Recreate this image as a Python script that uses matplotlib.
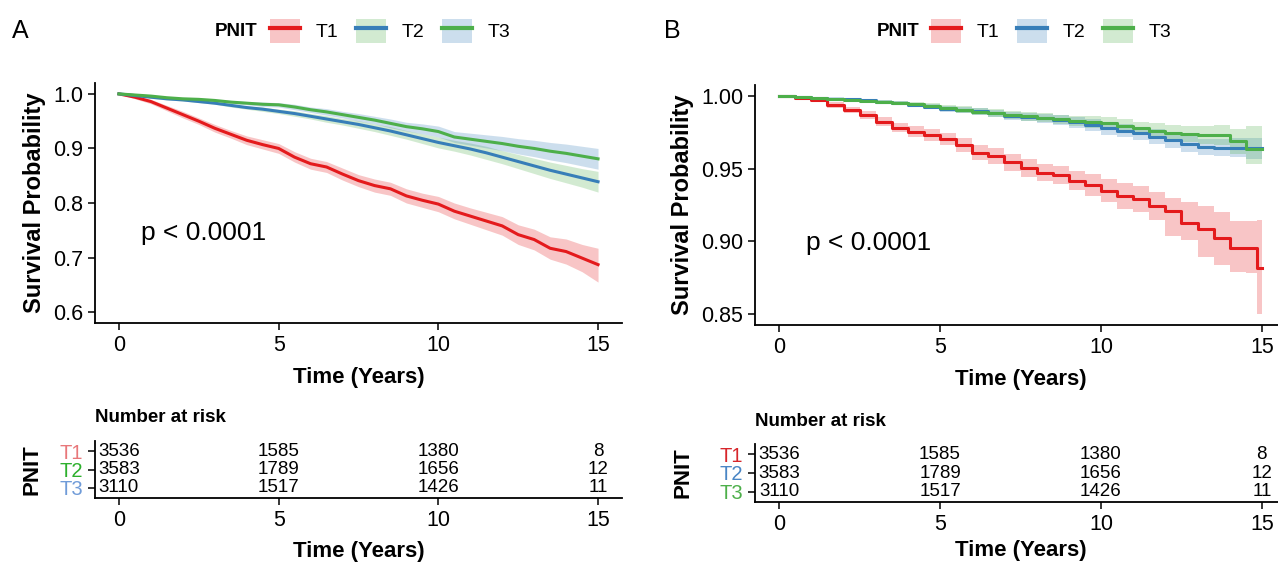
import numpy as np
import matplotlib.pyplot as plt
from matplotlib.patches import Patch
from matplotlib.lines import Line2D
from matplotlib.legend_handler import HandlerTuple

plt.rcParams['font.family'] = ['Liberation Sans', 'DejaVu Sans']

groups = ['T1', 'T2', 'T3']
years = [0, 0.5, 1, 1.5, 2, 2.5, 3, 3.5, 4, 4.5, 5, 5.5, 6, 6.5, 7, 7.5,
         8, 8.5, 9, 9.5, 10, 10.5, 11, 11.5, 12, 12.5, 13, 13.5, 14, 14.5, 15]

# panel A survival + 95% CI
a_t1 = [1.000, .994, .986, .974, .962, .950, .937, .926, .915, .907, .900, .884, .872, .866, .853, .841,
        .832, .826, .813, .805, .798, .785, .776, .767, .758, .742, .733, .717, .711, .699, .687]
a_t1_lo = [1.000, .991, .982, .969, .956, .944, .930, .919, .907, .899, .891, .875, .862, .856, .842, .830,
           .820, .814, .800, .792, .784, .771, .761, .751, .741, .724, .714, .697, .688, .674, .655]
a_t1_hi = [1.000, .997, .990, .979, .968, .956, .944, .933, .923, .916, .909, .894, .882, .876, .864, .852,
           .844, .838, .826, .818, .812, .800, .791, .783, .775, .760, .752, .738, .734, .724, .717]
a_t2 = [1.000, .997, .994, .991, .989, .986, .983, .979, .975, .972, .968, .964, .959, .954, .949, .944,
        .938, .932, .925, .918, .911, .905, .899, .892, .884, .876, .868, .860, .853, .846, .839]
a_t2_lo = [1.000, .996, .992, .989, .987, .984, .981, .976, .972, .968, .964, .959, .954, .948, .943, .937,
           .931, .924, .917, .909, .901, .895, .888, .880, .872, .863, .854, .845, .837, .829, .820]
a_t2_hi = [1.000, .998, .996, .993, .991, .988, .985, .982, .978, .976, .972, .969, .964, .960, .955, .951,
           .945, .940, .933, .927, .921, .915, .910, .904, .896, .889, .882, .875, .869, .863, .858]
a_t3 = [1.000, .998, .996, .993, .991, .990, .988, .985, .983, .981, .980, .976, .971, .967, .962, .957,
        .952, .946, .940, .936, .931, .921, .917, .913, .909, .904, .900, .895, .891, .886, .881]
a_t3_lo = [1.000, .997, .994, .991, .989, .988, .986, .982, .980, .977, .976, .971, .966, .961, .956, .950,
           .945, .938, .932, .927, .921, .911, .906, .901, .896, .890, .885, .879, .874, .868, .862]
a_t3_hi = [1.000, .999, .998, .995, .993, .992, .990, .988, .986, .985, .984, .981, .976, .973, .968, .964,
           .959, .954, .948, .945, .941, .931, .928, .925, .922, .918, .915, .911, .908, .904, .900]

# panel B survival + 95% CI
b_years_t1 = years[:-1] + [14.85, 15]
b_t1 = [1.0000, .9988, .9972, .9938, .9903, .9868, .9822, .9781, .9753, .9730, .9707, .9661, .9610, .9587,
        .9545, .9504, .9472, .9458, .9418, .9388, .9349, .9310, .9291, .9241, .9211, .9125, .9084, .9026,
        .8957, .8957, .8814, .8814]
b_t1_lo = [1.0000, .9980, .9960, .9920, .9880, .9840, .9795, .9750, .9715, .9690, .9662, .9612, .9560, .9530,
           .9485, .9445, .9415, .9395, .9350, .9315, .9272, .9225, .9200, .9150, .9040, .9010, .8890, .8840,
           .8790, .8780, .8500, .8500]
b_t1_hi = [1.0000, .9996, .9984, .9955, .9926, .9895, .9857, .9812, .9790, .9770, .9748, .9710, .9660, .9640,
           .9600, .9565, .9530, .9520, .9485, .9460, .9430, .9400, .9380, .9340, .9300, .9270, .9245, .9200,
           .9140, .9140, .9150, .9150]
b_t2 = [1.0000, .9994, .9988, .9982, .9977, .9970, .9961, .9950, .9938, .9925, .9910, .9902, .9896, .9880,
        .9864, .9855, .9845, .9832, .9818, .9798, .9776, .9760, .9742, .9720, .9695, .9670, .9649, .9645,
        .9645, .9642, .9642]
b_t2_lo = [1.0000, .9990, .9982, .9974, .9968, .9960, .9949, .9936, .9922, .9907, .9890, .9880, .9872, .9854,
           .9836, .9825, .9812, .9797, .9780, .9758, .9734, .9715, .9695, .9670, .9643, .9615, .9592, .9585,
           .9580, .9565, .9557]
b_t2_hi = [1.0000, .9998, .9994, .9990, .9986, .9980, .9973, .9964, .9954, .9943, .9930, .9924, .9920, .9906,
           .9892, .9885, .9878, .9867, .9856, .9838, .9818, .9805, .9789, .9770, .9747, .9725, .9706, .9705,
           .9710, .9708, .9707]
b_t3 = [1.0000, .9994, .9988, .9980, .9972, .9966, .9961, .9952, .9942, .9930, .9919, .9905, .9892, .9880,
        .9868, .9860, .9850, .9838, .9827, .9820, .9811, .9795, .9776, .9762, .9748, .9738, .9730, .9730,
        .9688, .9638, .9638]
b_t3_lo = [1.0000, .9990, .9982, .9972, .9962, .9955, .9948, .9937, .9925, .9911, .9898, .9882, .9867, .9853,
           .9840, .9830, .9818, .9804, .9790, .9780, .9768, .9750, .9728, .9711, .9694, .9680, .9668, .9662,
           .9600, .9530, .9465]
b_t3_hi = [1.0000, .9998, .9994, .9988, .9982, .9977, .9974, .9967, .9959, .9949, .9940, .9928, .9917, .9907,
           .9896, .9890, .9882, .9872, .9864, .9860, .9854, .9840, .9824, .9813, .9802, .9796, .9792, .9798,
           .9775, .9790, .9788]

# number at risk
risk_times = [0, 5, 10, 15]
risk_t1 = [3536, 1585, 1380, 8]
risk_t2 = [3583, 1789, 1656, 12]
risk_t3 = [3110, 1517, 1426, 11]

RED, BLUE, GREEN = '#E41A1C', '#377EB8', '#4DAF4A'

fig = plt.figure(figsize=(12.78, 5.63), dpi=100)
W, H = 1278, 563


def box(left, top, right, bottom):
    return [left / W, 1 - bottom / H, (right - left) / W, (bottom - top) / H]


def style(ax):
    for s in ['top', 'right']:
        ax.spines[s].set_visible(False)
    for s in ['left', 'bottom']:
        ax.spines[s].set_linewidth(1.3)
    ax.tick_params(direction='out', length=5, width=1.1, labelsize=15.5, colors='black')
    ax.set_xlim(-0.75, 15.75)
    ax.set_xticks([0, 5, 10, 15])


panels = [
    dict(main=box(95, 83, 622, 323), table=box(95, 441, 622, 498), ylim=(0.58, 1.02),
         yt=[0.6, 0.7, 0.8, 0.9, 1.0], fmt='%.1f', ptxt=(0.7, 0.745), letter='A', lx=12, steps=False,
         curves=[(years, a_t1, a_t1_lo, a_t1_hi, RED, RED),
                 (years, a_t2, a_t2_lo, a_t2_hi, BLUE, GREEN),
                 (years, a_t3, a_t3_lo, a_t3_hi, GREEN, BLUE)],
         tabcols=['#E8777A', '#2DB02D', '#6F9BD8'], leg_x=258, risk_y=418, pnit_x=32, pnit_y=470,
         tpad=7),
    dict(main=box(755, 85, 1286, 325), table=box(755, 444, 1286, 502), ylim=(0.8425, 1.0075),
         yt=[0.85, 0.90, 0.95, 1.00], fmt='%.2f', ptxt=(0.84, 0.899), letter='B', lx=664, steps=True,
         curves=[(b_years_t1, b_t1, b_t1_lo, b_t1_hi, RED, RED),
                 (years, b_t2, b_t2_lo, b_t2_hi, BLUE, BLUE),
                 (years, b_t3, b_t3_lo, b_t3_hi, GREEN, GREEN)],
         tabcols=['#D7262B', '#4A86C5', '#4DAF4A'], leg_x=919, risk_y=422, pnit_x=683, pnit_y=473,
         tpad=4),
]

for p in panels:
    ax = fig.add_axes(p['main'])
    style(ax)
    for t, s, lo, hi, lc, fc in p['curves']:
        if p['steps']:
            ax.fill_between(t, lo, hi, step='post', color=fc, alpha=0.25, linewidth=0)
        else:
            ax.fill_between(t, lo, hi, color=fc, alpha=0.25, linewidth=0)
    for t, s, lo, hi, lc, fc in p['curves']:
        if p['steps']:
            ax.step(t, s, where='post', color=lc, linewidth=2.2)
        else:
            ax.plot(t, s, color=lc, linewidth=2.2)
    ax.set_ylim(*p['ylim'])
    ax.set_yticks(p['yt'])
    ax.yaxis.set_major_formatter(plt.FormatStrFormatter(p['fmt']))
    ax.set_xlabel('Time (Years)', fontsize=16, fontweight='bold', labelpad=8)
    ax.set_ylabel('Survival Probability', fontsize=17, fontweight='bold', labelpad=5)
    ax.text(p['ptxt'][0], p['ptxt'][1], 'p < 0.0001', fontsize=19, va='center', ha='left')

    # legend
    handles = [(Patch(facecolor=fc, alpha=0.25, edgecolor='none'), Line2D([], [], color=lc, linewidth=3))
               for t, s, lo, hi, lc, fc in p['curves']]
    fig.text(p['leg_x'] / W, 1 - 31 / H, 'PNIT', fontsize=13.5, fontweight='bold', ha='right', va='center')
    fig.legend(handles, groups, loc='center left', bbox_to_anchor=((p['leg_x'] + 12) / W, 1 - 31 / H),
               ncol=3, frameon=False, fontsize=14, handlelength=1.55, handleheight=1.55,
               handletextpad=0.8, columnspacing=0.9, borderpad=0, borderaxespad=0,
               handler_map={tuple: HandlerTuple(ndivide=1, pad=0)})
    fig.text(p['lx'] / W, 1 - 31 / H, p['letter'], fontsize=18, va='center', ha='left')

    # risk table
    tb = fig.add_axes(p['table'])
    style(tb)
    tb.set_ylim(0.45, 3.55)
    for row, counts in zip([3, 2, 1], [risk_t1, risk_t2, risk_t3]):
        for x, n in zip(risk_times, counts):
            tb.text(x, row, str(n), ha='center', va='center', fontsize=13.5)
    tb.set_yticks([3, 2, 1])
    tb.set_yticklabels(groups, fontsize=14.5)
    for lab, c in zip(tb.get_yticklabels(), p['tabcols']):
        lab.set_color(c)
    tb.set_xlabel('Time (Years)', fontsize=16, fontweight='bold', labelpad=p['tpad'])
    fig.text(p['main'][0], 1 - p['risk_y'] / H, 'Number at risk', fontsize=13.5, fontweight='bold',
             ha='left', va='center')
    fig.text(p['pnit_x'] / W, 1 - p['pnit_y'] / H, 'PNIT', fontsize=16, fontweight='bold',
             rotation=90, ha='center', va='center')

fig.savefig('out.png', dpi=100, facecolor='white')
